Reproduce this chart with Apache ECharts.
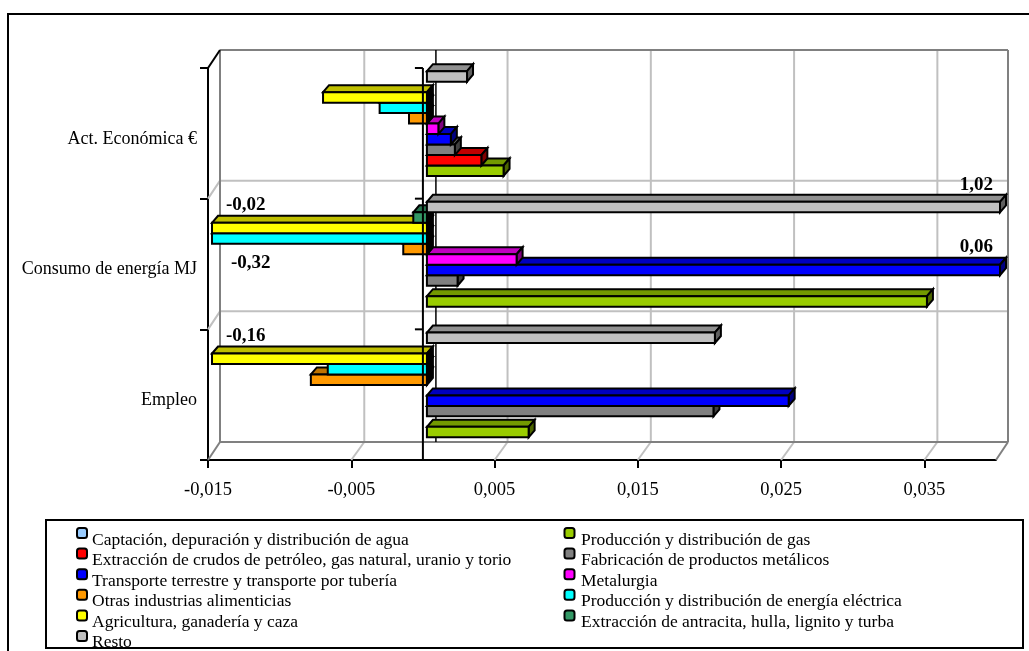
<!DOCTYPE html>
<html>
<head>
<meta charset="utf-8">
<style>
html, body { margin: 0; padding: 0; background: #fff; }
#chart { width: 1029px; height: 651px; }
</style>
<script src="https://cdn.jsdelivr.net/npm/echarts@6/dist/echarts.min.js"></script>
</head>
<body>
<div id="chart"></div>
<script>
var categories = ['Empleo', 'Consumo de energía MJ', 'Act. Económica €'];
var xTicks = [-0.015, -0.005, 0.005, 0.015, 0.025, 0.035];

// same order as the legend, first one sits at the bottom of each group
var seriesNames = [
    'Captación, depuración y distribución de agua',
    'Producción y distribución de gas',
    'Extracción de crudos de petróleo, gas natural, uranio y torio',
    'Fabricación de productos metálicos',
    'Transporte terrestre y transporte por tubería',
    'Metalurgia',
    'Otras industrias alimenticias',
    'Producción y distribución de energía eléctrica',
    'Agricultura, ganadería y caza',
    'Extracción de antracita, hulla, lignito y turba',
    'Resto'
];
var seriesColors = ['#99ccff', '#99cc00', '#ff0000', '#808080', '#0000ff', '#ff00ff', '#ff9900', '#00ffff', '#ffff00', '#339966', '#c0c0c0'];

var captacion = [0, 0, 0];
var gas = [0.0071, 0.0349, 0.00535];
var crudos = [0, 0, 0.0038];
var metalicos = [0.02, 0.00214, 0.00195];
var transporte = [0.02525, 0.06, 0.00167];
var metalurgia = [0, 0.00626, 0.0008];
var alimenticias = [-0.0081, -0.00165, -0.00125];
var electrica = [-0.00692, -0.32, -0.0033];
var agricultura = [-0.16, -0.02, -0.00725];
var antracita = [0, -0.00095, 0];
var resto = [0.0201, 1.02, 0.0028];
var seriesValues = [captacion, gas, crudos, metalicos, transporte, metalurgia, alimenticias, electrica, agricultura, antracita, resto];

var xMin = -0.015, xMax = 0.04;
var myChart = echarts.init(document.getElementById('chart'));

function shade(color, k) {
    var n = parseInt(color.slice(1), 16);
    var r = Math.round((n >> 16) * k), g = Math.round(((n >> 8) & 255) * k), b = Math.round((n & 255) * k);
    return 'rgb(' + r + ',' + g + ',' + b + ')';
}

// depth of the box and how far the bars sit behind the axis plane
var depthX = 6, depthY = -7, shiftX = 4, shiftY = -4.5;
var wallX = 13, wallY = -18;

function barRender(slot, color) {
    return function (params, api) {
        var v = api.value(0);
        if (v === 0) return null;
        var clipped = v < xMin || v > xMax;
        var shown = Math.max(xMin, Math.min(xMax, v));
        var cat = api.value(1);
        var band = api.size([0, 1])[1];
        var h = band * 0.0802;
        var centre = api.coord([0, cat]);
        var x0 = centre[0] + shiftX;
        var x1 = api.coord([shown, cat])[0] + shiftX;
        var left = Math.min(x0, x1), right = Math.max(x0, x1);
        var top = centre[1] + shiftY + (4.5 - slot) * h;
        var bottom = top + h;
        var line = { stroke: '#000', lineWidth: 2 };
        var kids = [
            { type: 'polygon', shape: { points: [[left, top], [left + depthX, top + depthY], [right + depthX, top + depthY], [right, top]] },
              style: Object.assign({ fill: shade(color, 0.75) }, line) },
            { type: 'polygon', shape: { points: [[right, top], [right + depthX, top + depthY], [right + depthX, bottom + depthY], [right, bottom]] },
              style: Object.assign({ fill: v < 0 ? '#000' : shade(color, 0.5) }, line) },
            { type: 'rect', shape: { x: left, y: top, width: right - left, height: h },
              style: Object.assign({ fill: color }, line) }
        ];
        if (clipped) {
            var below = seriesNames[slot] === 'Producción y distribución de energía eléctrica';
            kids.push({
                type: 'text',
                style: {
                    x: v < 0 ? left + (below ? 19 : 14) : right - 7,
                    y: top + h / 2 + (below ? 25 : -22.5),
                    text: v.toFixed(2).replace('.', ','),
                    font: 'bold 19px "Liberation Serif"',
                    fill: '#000',
                    align: v < 0 ? 'left' : 'right',
                    verticalAlign: 'middle'
                }
            });
        }
        return { type: 'group', children: kids };
    };
}

function seg(x1, y1, x2, y2, color, width) {
    return { type: 'line', shape: { x1: x1, y1: y1, x2: x2, y2: y2 }, style: { stroke: color, lineWidth: width } };
}

// back wall, floor and side wall
function wallRender(params, api) {
    var kids = [];
    var band = api.size([0, 1])[1];
    var lo = api.coord([xMin, 0]), hi = api.coord([xMax, 0]);
    var yBottom = lo[1] + band / 2;
    var yTop = yBottom - band * categories.length;
    var backL = lo[0] + wallX - 1, backR = hi[0] + wallX - 1;
    xTicks.slice(1).forEach(function (t) {
        var x = api.coord([t, 0])[0];
        kids.push(seg(x, yBottom, x + wallX, yBottom + wallY, '#c0c0c0', 2));
        kids.push(seg(x + wallX, yBottom + wallY, x + wallX, yTop + wallY, '#c0c0c0', 2));
    });
    for (var i = 1; i < categories.length; i++) {
        var y = yBottom - band * i;
        kids.push(seg(lo[0], y, backL, y + wallY, '#c0c0c0', 2));
        kids.push(seg(backL, y + wallY, backR, y + wallY, '#c0c0c0', 2));
    }
    kids.push(seg(lo[0], yBottom, backL, yBottom + wallY, '#808080', 2));
    kids.push(seg(hi[0], yBottom, backR, yBottom + wallY, '#808080', 2));
    kids.push(seg(backL, yBottom + wallY, backR, yBottom + wallY, '#808080', 2));
    kids.push(seg(backL, yTop + wallY, backR, yTop + wallY, '#808080', 2));
    kids.push(seg(backL, yBottom + wallY, backL, yTop + wallY, '#808080', 2));
    kids.push(seg(backR, yBottom + wallY, backR, yTop + wallY, '#808080', 2));
    kids.push(seg(lo[0], yTop, backL, yTop + wallY, '#000', 2));
    var zero = api.coord([0, 0])[0];
    kids.push(seg(zero + wallX, yBottom + wallY, zero + wallX, yTop + wallY, '#000', 1.5));
    return { type: 'group', children: kids };
}

// zero line on the front plane goes over the bars
function zeroRender(params, api) {
    var band = api.size([0, 1])[1];
    var c = api.coord([0, 0]);
    var yBottom = c[1] + band / 2;
    var kids = [seg(c[0], yBottom, c[0], yBottom - band * categories.length, '#000', 2)];
    for (var i = 0; i <= categories.length; i++) {
        kids.push(seg(c[0] - 8, yBottom - band * i, c[0], yBottom - band * i, '#000', 2));
    }
    return { type: 'group', children: kids };
}

var series = [{
    type: 'custom', silent: true, z: 1, renderItem: wallRender, data: [[0, 0]],
    encode: { x: 0, y: 1 }
}];
seriesNames.forEach(function (name, i) {
    series.push({
        name: name,
        type: 'custom',
        silent: true,
        z: 2 + i,
        renderItem: barRender(i, seriesColors[i]),
        itemStyle: { color: seriesColors[i] },
        encode: { x: 0, y: 1 },
        data: seriesValues[i].map(function (v, k) { return [v, k]; })
    });
});
series.push({
    type: 'custom', silent: true, z: 20, renderItem: zeroRender, data: [[0, 0]],
    encode: { x: 0, y: 1 }
});

// swatches and texts are not on one line in the original, so two legends per column
function legendSwatches(left, from) {
    var items = [];
    for (var i = from; i < seriesNames.length; i += 2) {
        items.push({ name: seriesNames[i], icon: 'roundRect', itemStyle: { color: seriesColors[i], borderColor: '#000', borderWidth: 2 } });
    }
    return {
        orient: 'vertical',
        left: left,
        top: 527,
        height: 200,
        padding: 0,
        itemWidth: 10,
        itemHeight: 10,
        itemGap: 8.6,
        selectedMode: false,
        data: items,
        formatter: function () { return ' '; },
        textStyle: { fontSize: 1, lineHeight: 1 }
    };
}

function legendTexts(left, from) {
    var items = [];
    for (var i = from; i < seriesNames.length; i += 2) {
        items.push({ name: seriesNames[i], icon: 'rect', itemStyle: { opacity: 0 } });
    }
    return {
        orient: 'vertical',
        left: left,
        top: 531.5,
        height: 200,
        padding: 0,
        itemWidth: 1,
        itemHeight: 17,
        itemGap: 2.4,
        selectedMode: false,
        data: items,
        textStyle: { fontFamily: 'Liberation Serif', fontSize: 17.5, color: '#000', lineHeight: 17 }
    };
}

myChart.setOption({
    animation: false,
    backgroundColor: '#fff',
    graphic: [
        { type: 'rect', z: -1, shape: { x: 8, y: 14, width: 1040, height: 660 }, style: { fill: '#fff', stroke: '#000', lineWidth: 2 } },
        { type: 'rect', z: -1, shape: { x: 46, y: 520, width: 977, height: 128 }, style: { fill: '#fff', stroke: '#000', lineWidth: 2 } }
    ],
    grid: { left: 208, right: 33, top: 68, height: 392, containLabel: false },
    legend: [legendSwatches(76, 0), legendTexts(86, 0), legendSwatches(563.5, 1), legendTexts(575, 1)],
    xAxis: {
        type: 'value',
        min: xMin,
        max: xMax,
        interval: 0.005,
        splitLine: { show: false },
        axisLine: { show: true, onZero: false, lineStyle: { color: '#000', width: 2 } },
        axisTick: { show: true, length: 8, customValues: xTicks, lineStyle: { color: '#000', width: 2 } },
        axisLabel: {
            customValues: xTicks,
            margin: 21,
            color: '#000',
            fontFamily: 'Liberation Serif',
            fontSize: 18.5,
            formatter: function (v) { return String(v).replace('.', ','); }
        }
    },
    yAxis: {
        type: 'category',
        data: categories,
        axisLine: { show: true, onZero: false, lineStyle: { color: '#000', width: 2 } },
        axisTick: { show: true, length: 8, lineStyle: { color: '#000', width: 2 } },
        axisLabel: {
            margin: 11,
            color: '#000',
            fontFamily: 'Liberation Serif',
            fontSize: 18,
            verticalAlign: 'top',
            lineHeight: 11
        }
    },
    series: series
});
</script>
</body>
</html>
